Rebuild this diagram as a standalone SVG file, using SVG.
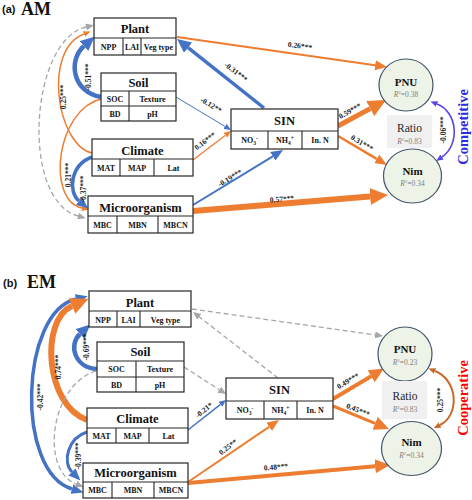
<svg xmlns="http://www.w3.org/2000/svg" width="472" height="500" viewBox="0 0 472 500">
<style>
.bx{fill:#fff;stroke:#262626;stroke-width:1.2}
.ln{stroke:#262626;stroke-width:1.1}
.hd{font-family:"Liberation Serif",serif;font-weight:bold;font-size:12.5px;text-anchor:middle;fill:#111}
.cl{font-family:"Liberation Serif",serif;font-weight:bold;font-size:8px;text-anchor:middle;fill:#111}
.lb{font-family:"Liberation Serif",serif;font-weight:bold;font-size:7.5px;text-anchor:middle;fill:#1a1a1a}
.ci{fill:#EEF3E8;stroke:#44546A;stroke-width:1.2}
.cn{font-family:"Liberation Serif",serif;font-weight:bold;font-size:11px;text-anchor:middle;fill:#111}
.r2{font-family:"Liberation Serif",serif;font-size:7.5px;text-anchor:middle;fill:#7f7f7f}
.rt{font-family:"Liberation Serif",serif;font-size:11.5px;text-anchor:middle;fill:#262626}
.tag{font-family:"Liberation Sans",sans-serif;font-weight:bold;font-size:11px;fill:#111}
.big{font-family:"Liberation Serif",serif;font-weight:bold;font-size:18px;fill:#111}
.side{font-family:"Liberation Serif",serif;font-weight:bold;font-size:14.5px;text-anchor:middle}
.o{stroke:#ED7D31;fill:none}
.b{stroke:#4472C4;fill:none}
.g{stroke:#A6A6A6;fill:none;stroke-width:1.3;stroke-dasharray:5,3}
</style>
<defs>
<marker id="oS" viewBox="0 0 10 10" refX="0" refY="5" markerWidth="7" markerHeight="6" markerUnits="userSpaceOnUse" orient="auto-start-reverse" preserveAspectRatio="none"><path d="M0,0L10,5L0,10z" fill="#ED7D31"/></marker>
<marker id="oM" viewBox="0 0 10 10" refX="0" refY="5" markerWidth="12" markerHeight="10" markerUnits="userSpaceOnUse" orient="auto-start-reverse" preserveAspectRatio="none"><path d="M0,0L10,5L0,10z" fill="#ED7D31"/></marker>
<marker id="oL" viewBox="0 0 10 10" refX="0" refY="5" markerWidth="15" markerHeight="14" markerUnits="userSpaceOnUse" orient="auto-start-reverse" preserveAspectRatio="none"><path d="M0,0L10,5L0,10z" fill="#ED7D31"/></marker>
<marker id="oXL" viewBox="0 0 10 10" refX="0" refY="5" markerWidth="18" markerHeight="17" markerUnits="userSpaceOnUse" orient="auto-start-reverse" preserveAspectRatio="none"><path d="M0,0L10,5L0,10z" fill="#ED7D31"/></marker>
<marker id="bS" viewBox="0 0 10 10" refX="0" refY="5" markerWidth="7" markerHeight="6" markerUnits="userSpaceOnUse" orient="auto-start-reverse" preserveAspectRatio="none"><path d="M0,0L10,5L0,10z" fill="#4472C4"/></marker>
<marker id="bM" viewBox="0 0 10 10" refX="0" refY="5" markerWidth="12" markerHeight="10" markerUnits="userSpaceOnUse" orient="auto-start-reverse" preserveAspectRatio="none"><path d="M0,0L10,5L0,10z" fill="#4472C4"/></marker>
<marker id="bL" viewBox="0 0 10 10" refX="0" refY="5" markerWidth="14" markerHeight="13" markerUnits="userSpaceOnUse" orient="auto-start-reverse" preserveAspectRatio="none"><path d="M0,0L10,5L0,10z" fill="#4472C4"/></marker>
<marker id="gS" viewBox="0 0 10 10" refX="0" refY="5" markerWidth="8" markerHeight="7" markerUnits="userSpaceOnUse" orient="auto-start-reverse" preserveAspectRatio="none"><path d="M0,0L10,5L0,10z" fill="#A6A6A6"/></marker>
<marker id="pS" viewBox="0 0 10 10" refX="0" refY="5" markerWidth="7" markerHeight="6" markerUnits="userSpaceOnUse" orient="auto-start-reverse" preserveAspectRatio="none"><path d="M0,0L10,5L0,10z" fill="#5A45E6"/></marker>
<marker id="rS" viewBox="0 0 10 10" refX="0" refY="5" markerWidth="7" markerHeight="6" markerUnits="userSpaceOnUse" orient="auto-start-reverse" preserveAspectRatio="none"><path d="M0,0L10,5L0,10z" fill="#C8692A"/></marker>
</defs>
<rect width="472" height="500" fill="#fff"/>

<g id="connectors">
<!-- panel a -->
<path class="o" stroke-width="2" marker-end="url(#oM)" d="M177,37 L375.1,65.3"/>
<path class="b" stroke-width="3.5" marker-end="url(#bL)" d="M264,108 L188,47.7"/>
<path class="b" stroke-width="1" marker-end="url(#bS)" d="M176,97 L225,126.4"/>
<path class="o" stroke-width="1.3" marker-end="url(#oS)" d="M193,160 L225.4,135.2"/>
<path class="b" stroke-width="2" marker-end="url(#bM)" d="M193,205 L272.8,156.3"/>
<path class="o" stroke-width="6" marker-end="url(#oXL)" d="M193,211 L370.1,196.5"/>
<path class="o" stroke-width="5" marker-end="url(#oXL)" d="M338,126 L370.2,108.6"/>
<path class="o" stroke-width="2.5" marker-end="url(#oM)" d="M338,136 L376.7,158.9"/>
<path class="g" marker-start="url(#gS)" marker-end="url(#gS)" d="M86,27 C30,40 20,200 78,216"/>
<path class="o" stroke-width="1.5" marker-end="url(#oS)" d="M92,153 C57,145 42,50 84,34"/>
<path class="o" stroke-width="1.5" marker-end="url(#oS)" d="M101,99 C56,110 46,200 82,208"/>
<path class="b" stroke-width="4.5" marker-end="url(#bL)" d="M101,97 C72,92 68,60 84,46"/>
<path class="b" stroke-width="3.5" marker-end="url(#bM)" d="M92,157 C70,165 68,192 79,201"/>
<path fill="none" stroke="#5A45E6" stroke-width="1.6" marker-start="url(#pS)" marker-end="url(#pS)" d="M437,104 C458,112 460,145 442,157"/>
<!-- panel b -->
<path class="g" marker-end="url(#gS)" d="M192,309 L375.1,334.9"/>
<path class="g" marker-end="url(#gS)" d="M278,378 L199.3,316.9"/>
<path class="g" marker-end="url(#gS)" d="M184,367 L219.3,389.7"/>
<path class="b" stroke-width="1.5" marker-end="url(#bS)" d="M188,430 L220.5,404.3"/>
<path class="o" stroke-width="2" marker-end="url(#oM)" d="M188,482 L269.1,426.8"/>
<path class="o" stroke-width="4" marker-end="url(#oL)" d="M188,483 L375.1,466.3"/>
<path class="o" stroke-width="4" marker-end="url(#oL)" d="M333,399 L371.1,376.2"/>
<path class="o" stroke-width="3" marker-end="url(#oL)" d="M333,406 L375.1,423.3"/>
<path class="b" stroke-width="3.5" marker-start="url(#bM)" marker-end="url(#bM)" d="M76,299 C20,312 15,472 72,489"/>
<path class="o" stroke-width="6" marker-end="url(#oXL)" d="M87,420 C45,405 40,320 72,306"/>
<path class="b" stroke-width="4.5" marker-end="url(#bL)" d="M97,369 C75,368 68,345 80,334"/>
<path class="b" stroke-width="3" marker-end="url(#bM)" d="M87,432 C68,438 62,462 72,472"/>
<path class="g" marker-end="url(#gS)" d="M96,371 C50,385 40,470 76,484"/>
<path fill="none" stroke="#C8692A" stroke-width="2" marker-start="url(#rS)" marker-end="url(#rS)" d="M435,371 C458,380 460,415 440,425"/>
</g>

<g id="panel-a-title"><text class="tag" x="2" y="13">(a)</text><text class="big" x="21" y="15">AM</text></g>
<g id="panel-b-title"><text class="tag" x="3" y="287">(b)</text><text class="big" x="27" y="288">EM</text></g>

<!-- panel a nodes -->
<g id="a-plant">
<rect class="bx" x="94" y="18" width="82" height="37"/>
<line class="ln" x1="94" y1="38" x2="176" y2="38"/><line class="ln" x1="123" y1="38" x2="123" y2="55"/><line class="ln" x1="141" y1="38" x2="141" y2="55"/>
<text class="hd" x="135" y="33">Plant</text>
<text class="cl" x="108.5" y="49.5">NPP</text><text class="cl" x="132" y="49.5">LAI</text><text class="cl" x="158.5" y="49.5">Veg type</text>
</g>
<g id="a-soil">
<rect class="bx" x="101" y="73" width="75" height="48"/>
<line class="ln" x1="101" y1="91" x2="176" y2="91"/><line class="ln" x1="101" y1="106" x2="176" y2="106"/><line class="ln" x1="129" y1="91" x2="129" y2="121"/>
<text class="hd" x="138.5" y="86.5">Soil</text>
<text class="cl" x="115" y="102">SOC</text><text class="cl" x="152.5" y="102">Texture</text>
<text class="cl" x="115" y="117">BD</text><text class="cl" x="152.5" y="117">pH</text>
</g>
<g id="a-climate">
<rect class="bx" x="92" y="139" width="101" height="37"/>
<line class="ln" x1="92" y1="159" x2="193" y2="159"/><line class="ln" x1="120" y1="159" x2="120" y2="176"/><line class="ln" x1="154" y1="159" x2="154" y2="176"/>
<text class="hd" x="142.5" y="155">Climate</text>
<text class="cl" x="106" y="170.5">MAT</text><text class="cl" x="137" y="170.5">MAP</text><text class="cl" x="173.5" y="170.5">Lat</text>
</g>
<g id="a-micro">
<rect class="bx" x="88" y="196" width="105" height="37"/>
<line class="ln" x1="88" y1="216" x2="193" y2="216"/><line class="ln" x1="117" y1="216" x2="117" y2="233"/><line class="ln" x1="158" y1="216" x2="158" y2="233"/>
<text class="hd" x="140.5" y="211.5">Microorganism</text>
<text class="cl" x="102.5" y="228">MBC</text><text class="cl" x="137.5" y="228">MBN</text><text class="cl" x="175.5" y="228">MBCN</text>
</g>
<g id="a-sin">
<rect class="bx" x="231" y="109" width="107" height="40"/>
<line class="ln" x1="231" y1="131" x2="338" y2="131"/><line class="ln" x1="268" y1="131" x2="268" y2="149"/><line class="ln" x1="302" y1="131" x2="302" y2="149"/>
<text class="hd" x="284.5" y="125">SIN</text>
<text class="cl" x="249.5" y="143">NO<tspan dy="2" font-size="5.5">3</tspan><tspan dy="-5" font-size="5.5">-</tspan></text>
<text class="cl" x="285" y="143">NH<tspan dy="2" font-size="5.5">4</tspan><tspan dy="-5" font-size="5.5">+</tspan></text>
<text class="cl" x="320" y="143">In. N</text>
</g>
<g id="a-pnu">
<ellipse class="ci" cx="406" cy="85" rx="27" ry="26"/>
<text class="cn" x="406" y="86">PNU</text>
<text class="r2" x="406" y="97"><tspan font-style="italic">R</tspan><tspan dy="-3" font-size="5">2</tspan><tspan dy="3">=0.38</tspan></text>
</g>
<g id="a-ratio">
<rect x="387" y="115" width="45" height="33" fill="#F0F0F0"/>
<text class="rt" x="409.5" y="132">Ratio</text>
<text class="r2" x="409.5" y="144" font-size="7"><tspan font-style="italic">R</tspan><tspan dy="-3" font-size="5">2</tspan><tspan dy="3">=0.83</tspan></text>
</g>
<g id="a-nim">
<ellipse class="ci" cx="412.5" cy="176" rx="29" ry="27"/>
<text class="cn" x="412.5" y="175">Nim</text>
<text class="r2" x="412.5" y="186"><tspan font-style="italic">R</tspan><tspan dy="-3" font-size="5">2</tspan><tspan dy="3">=0.34</tspan></text>
</g>
<text id="a-competitive" class="side" fill="#2B2BE3" transform="translate(468,127) rotate(-90)">Competitive</text>

<!-- panel b nodes -->
<g id="b-plant">
<rect class="bx" x="89" y="291" width="102" height="36"/>
<line class="ln" x1="89" y1="311" x2="191" y2="311"/><line class="ln" x1="117" y1="311" x2="117" y2="327"/><line class="ln" x1="140" y1="311" x2="140" y2="327"/>
<text class="hd" x="140" y="306.5">Plant</text>
<text class="cl" x="103" y="322.5">NPP</text><text class="cl" x="128.5" y="322.5">LAI</text><text class="cl" x="165.5" y="322.5">Veg type</text>
</g>
<g id="b-soil">
<rect class="bx" x="97" y="342" width="87" height="50"/>
<line class="ln" x1="97" y1="361" x2="184" y2="361"/><line class="ln" x1="97" y1="377" x2="184" y2="377"/><line class="ln" x1="136" y1="361" x2="136" y2="392"/>
<text class="hd" x="140.5" y="356">Soil</text>
<text class="cl" x="116.5" y="372">SOC</text><text class="cl" x="160" y="372">Texture</text>
<text class="cl" x="116.5" y="388">BD</text><text class="cl" x="160" y="388">pH</text>
</g>
<g id="b-climate">
<rect class="bx" x="87" y="408" width="101" height="35"/>
<line class="ln" x1="87" y1="428" x2="188" y2="428"/><line class="ln" x1="116" y1="428" x2="116" y2="443"/><line class="ln" x1="149" y1="428" x2="149" y2="443"/>
<text class="hd" x="137.5" y="423">Climate</text>
<text class="cl" x="101.5" y="438.5">MAT</text><text class="cl" x="132.5" y="438.5">MAP</text><text class="cl" x="168.5" y="438.5">Lat</text>
</g>
<g id="b-micro">
<rect class="bx" x="83" y="463" width="105" height="35"/>
<line class="ln" x1="83" y1="482" x2="188" y2="482"/><line class="ln" x1="112" y1="482" x2="112" y2="498"/><line class="ln" x1="154" y1="482" x2="154" y2="498"/>
<text class="hd" x="135.5" y="477">Microorganism</text>
<text class="cl" x="97.5" y="493">MBC</text><text class="cl" x="133" y="493">MBN</text><text class="cl" x="171" y="493">MBCN</text>
</g>
<g id="b-sin">
<rect class="bx" x="226" y="378" width="107" height="41"/>
<line class="ln" x1="226" y1="401" x2="333" y2="401"/><line class="ln" x1="264" y1="401" x2="264" y2="419"/><line class="ln" x1="297" y1="401" x2="297" y2="419"/>
<text class="hd" x="279.5" y="394">SIN</text>
<text class="cl" x="245" y="413">NO<tspan dy="2" font-size="5.5">3</tspan><tspan dy="-5" font-size="5.5">-</tspan></text>
<text class="cl" x="280.5" y="413">NH<tspan dy="2" font-size="5.5">4</tspan><tspan dy="-5" font-size="5.5">+</tspan></text>
<text class="cl" x="315" y="413">In. N</text>
</g>
<g id="b-pnu">
<ellipse class="ci" cx="405" cy="354" rx="27" ry="27"/>
<text class="cn" x="405" y="353">PNU</text>
<text class="r2" x="405" y="365"><tspan font-style="italic">R</tspan><tspan dy="-3" font-size="5">2</tspan><tspan dy="3">=0.23</tspan></text>
</g>
<g id="b-ratio">
<rect x="382" y="381" width="45" height="38" fill="#F0F0F0"/>
<text class="rt" x="405" y="400">Ratio</text>
<text class="r2" x="405" y="411.5" font-size="7"><tspan font-style="italic">R</tspan><tspan dy="-3" font-size="5">2</tspan><tspan dy="3">=0.83</tspan></text>
</g>
<g id="b-nim">
<ellipse class="ci" cx="411.5" cy="448.5" rx="30" ry="27"/>
<text class="cn" x="411.5" y="446">Nim</text>
<text class="r2" x="411.5" y="458"><tspan font-style="italic">R</tspan><tspan dy="-3" font-size="5">2</tspan><tspan dy="3">=0.34</tspan></text>
</g>
<text id="b-cooperative" class="side" fill="#FF0000" transform="translate(468,398) rotate(-90)">Cooperative</text>

<g id="labels">
<text class="lb" transform="translate(300,46) rotate(8)" y="2.5">0.26***</text>
<text class="lb" transform="translate(236,72) rotate(38)" y="2.5">-0.31***</text>
<text class="lb" transform="translate(211,105) rotate(31)" y="2.5">-0.12**</text>
<text class="lb" transform="translate(205,141) rotate(-37)" y="2.5">0.16***</text>
<text class="lb" transform="translate(230,178) rotate(-31)" y="2.5">-0.19***</text>
<text class="lb" transform="translate(282,199) rotate(-5)" y="2.5">0.57***</text>
<text class="lb" transform="translate(350,111) rotate(-29)" y="2.5">0.59***</text>
<text class="lb" transform="translate(362,143) rotate(31)" y="2.5">0.31***</text>
<text class="lb" transform="translate(63.5,97) rotate(-90)" y="2.5">0.25***</text>
<text class="lb" transform="translate(68,175) rotate(-90)" y="2.5">0.21***</text>
<text class="lb" transform="translate(88,77) rotate(-90)" y="2.5">-0.51***</text>
<text class="lb" transform="translate(83,189) rotate(-90)" y="2.5">-0.37***</text>
<text class="lb" transform="translate(443,130) rotate(-90)" y="2.5">-0.06***</text>
<text class="lb" transform="translate(204,410) rotate(-38)" y="2.5">-0.21*</text>
<text class="lb" transform="translate(228,447) rotate(-37)" y="2.5">0.25**</text>
<text class="lb" transform="translate(276,467) rotate(-5)" y="2.5">0.48***</text>
<text class="lb" transform="translate(348,381) rotate(-30)" y="2.5">0.49***</text>
<text class="lb" transform="translate(358,410) rotate(22)" y="2.5">0.45***</text>
<text class="lb" transform="translate(40,397) rotate(-90)" y="2.5">-0.42***</text>
<text class="lb" transform="translate(58.5,367) rotate(-90)" y="2.5">0.74***</text>
<text class="lb" transform="translate(86,347) rotate(-90)" y="2.5">-0.69***</text>
<text class="lb" transform="translate(78,456) rotate(-90)" y="2.5">-0.39***</text>
<text class="lb" transform="translate(440,400) rotate(-90)" y="2.5">0.25***</text>
</g>
</svg>
